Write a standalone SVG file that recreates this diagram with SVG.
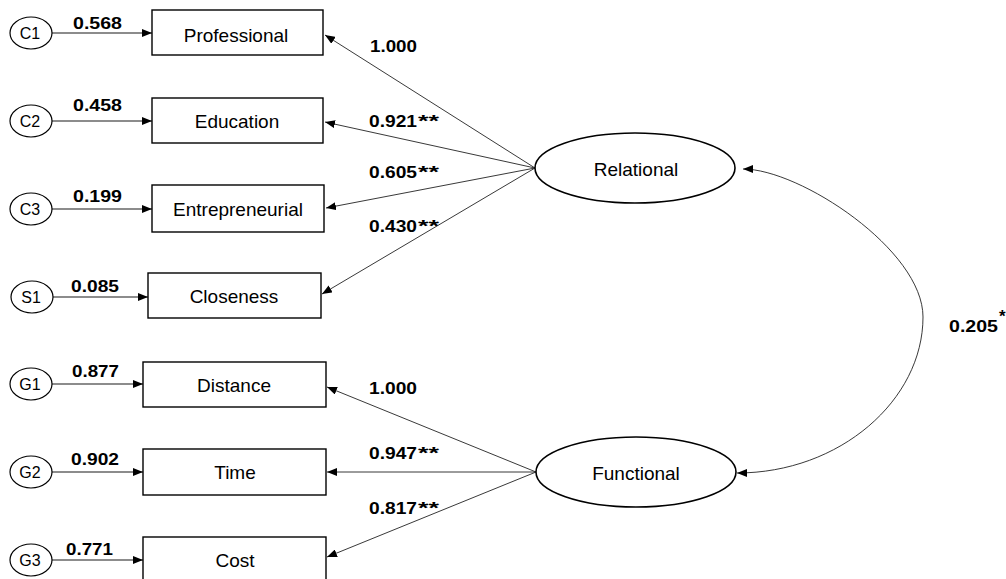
<svg xmlns="http://www.w3.org/2000/svg" width="1006" height="579" viewBox="0 0 1006 579">
  <style>
    .box { fill: #fff; stroke: #000; stroke-width: 1.4; }
    .lat { fill: #fff; stroke: #000; stroke-width: 1.6; }
    .err { fill: #fff; stroke: #000; stroke-width: 1.2; }
    .name { font-family: "Liberation Sans", Arial, sans-serif; font-size: 19px; fill: #000; text-anchor: middle; }
    .ename { font-family: "Liberation Sans", Arial, sans-serif; font-size: 16px; fill: #000; text-anchor: middle; }
    .val { font-family: "Liberation Sans", Arial, sans-serif; font-size: 17px; font-weight: bold; fill: #000; }
    .star { font-family: "Liberation Sans", Arial, sans-serif; font-size: 17px; font-weight: bold; fill: #000; }
    .load { fill: none; stroke: #222; stroke-width: 0.9; marker-end: url(#ah); }
    .res { fill: none; stroke: #666; stroke-width: 1.4; marker-end: url(#ah); }
    .cov { fill: none; stroke: #222; stroke-width: 0.9; }
  </style>
  <defs>
    <marker id="ah" markerWidth="11" markerHeight="8" refX="10" refY="4" orient="auto" markerUnits="userSpaceOnUse">
      <path d="M0,0 L10,4 L0,8 z" fill="#000"/>
    </marker>
    <marker id="ahs" markerWidth="11" markerHeight="8" refX="10" refY="4" orient="auto-start-reverse" markerUnits="userSpaceOnUse">
      <path d="M0,0 L10,4 L0,8 z" fill="#000"/>
    </marker>
  </defs>
  <rect width="1006" height="579" fill="#fff"/>

  <!-- connectors -->
  <g id="connectors">
    <!-- residual paths -->
    <line class="res" x1="52" y1="33" x2="152" y2="33"/>
    <line class="res" x1="52" y1="121" x2="152" y2="121"/>
    <line class="res" x1="52" y1="209" x2="152" y2="209"/>
    <line class="res" x1="53" y1="297" x2="148" y2="297"/>
    <line class="res" x1="52" y1="384" x2="143" y2="384"/>
    <line class="res" x1="52" y1="472" x2="143" y2="472"/>
    <line class="res" x1="52" y1="560" x2="143" y2="560"/>
    <!-- Relational loadings -->
    <line class="load" x1="535" y1="168" x2="325" y2="35"/>
    <line class="load" x1="535" y1="168" x2="325" y2="122"/>
    <line class="load" x1="535" y1="168" x2="326" y2="208"/>
    <line class="load" x1="535" y1="168" x2="322" y2="294"/>
    <!-- Functional loadings -->
    <line class="load" x1="536" y1="472" x2="327" y2="387"/>
    <line class="load" x1="536" y1="472" x2="327" y2="472"/>
    <line class="load" x1="536" y1="472" x2="327" y2="557"/>
    <!-- covariance -->
    <path class="cov" marker-start="url(#ahs)" marker-end="url(#ah)" d="M743,169 C800,169 923,250 923,317 C923,400 840,473 737,473"/>
  </g>

  <!-- labels on connectors -->
  <g id="labels">
    <text class="val" x="73" y="29" textLength="49" lengthAdjust="spacingAndGlyphs">0.568</text>
    <text class="val" x="73" y="111" textLength="49" lengthAdjust="spacingAndGlyphs">0.458</text>
    <text class="val" x="73" y="202" textLength="49" lengthAdjust="spacingAndGlyphs">0.199</text>
    <text class="val" x="71" y="292" textLength="48" lengthAdjust="spacingAndGlyphs">0.085</text>
    <text class="val" x="72" y="377" textLength="47" lengthAdjust="spacingAndGlyphs">0.877</text>
    <text class="val" x="71" y="465" textLength="48" lengthAdjust="spacingAndGlyphs">0.902</text>
    <text class="val" x="66" y="555" textLength="47" lengthAdjust="spacingAndGlyphs">0.771</text>

    <text class="val" x="370" y="52" textLength="47" lengthAdjust="spacingAndGlyphs">1.000</text>
    <text class="val" x="369" y="127" textLength="48" lengthAdjust="spacingAndGlyphs">0.921</text>
    <text class="star" x="418" y="127" textLength="21" lengthAdjust="spacingAndGlyphs">**</text>
    <text class="val" x="369" y="178" textLength="48" lengthAdjust="spacingAndGlyphs">0.605</text>
    <text class="star" x="418" y="178" textLength="21" lengthAdjust="spacingAndGlyphs">**</text>
    <text class="val" x="369" y="232" textLength="48" lengthAdjust="spacingAndGlyphs">0.430</text>
    <text class="star" x="418" y="232" textLength="21" lengthAdjust="spacingAndGlyphs">**</text>

    <text class="val" x="369" y="394" textLength="48" lengthAdjust="spacingAndGlyphs">1.000</text>
    <text class="val" x="369" y="459" textLength="48" lengthAdjust="spacingAndGlyphs">0.947</text>
    <text class="star" x="418" y="459" textLength="21" lengthAdjust="spacingAndGlyphs">**</text>
    <text class="val" x="369" y="514" textLength="48" lengthAdjust="spacingAndGlyphs">0.817</text>
    <text class="star" x="418" y="514" textLength="21" lengthAdjust="spacingAndGlyphs">**</text>

    <text class="val" x="949" y="332" textLength="49" lengthAdjust="spacingAndGlyphs">0.205</text>
    <text class="star" x="999" y="322" font-size="11">*</text>
  </g>

  <!-- error terms -->
  <g id="C1"><ellipse class="err" cx="31" cy="33" rx="21" ry="16"/><text class="ename" x="30" y="39">C1</text></g>
  <g id="C2"><ellipse class="err" cx="31" cy="121" rx="21" ry="16"/><text class="ename" x="30" y="127">C2</text></g>
  <g id="C3"><ellipse class="err" cx="31" cy="209" rx="21" ry="16"/><text class="ename" x="30" y="215">C3</text></g>
  <g id="S1"><ellipse class="err" cx="32" cy="297" rx="21" ry="16"/><text class="ename" x="31" y="303">S1</text></g>
  <g id="G1"><ellipse class="err" cx="31" cy="384" rx="21" ry="16"/><text class="ename" x="30" y="390">G1</text></g>
  <g id="G2"><ellipse class="err" cx="31" cy="472" rx="21" ry="16"/><text class="ename" x="30" y="478">G2</text></g>
  <g id="G3"><ellipse class="err" cx="31" cy="560" rx="21" ry="16"/><text class="ename" x="30" y="566">G3</text></g>

  <!-- observed variables -->
  <g id="Professional"><rect class="box" x="152" y="10" width="171" height="45"/><text class="name" x="236" y="42">Professional</text></g>
  <g id="Education"><rect class="box" x="152" y="98" width="171" height="45"/><text class="name" x="237" y="128">Education</text></g>
  <g id="Entrepreneurial"><rect class="box" x="152" y="185" width="172" height="47"/><text class="name" x="238" y="216">Entrepreneurial</text></g>
  <g id="Closeness"><rect class="box" x="148" y="273" width="173" height="45"/><text class="name" x="234" y="303">Closeness</text></g>
  <g id="Distance"><rect class="box" x="143" y="362" width="183" height="45"/><text class="name" x="234" y="392">Distance</text></g>
  <g id="Time"><rect class="box" x="143" y="449" width="183" height="46"/><text class="name" x="235" y="479">Time</text></g>
  <g id="Cost"><rect class="box" x="143" y="537" width="183" height="46"/><text class="name" x="235" y="567">Cost</text></g>

  <!-- latent factors -->
  <g id="Relational"><ellipse class="lat" cx="635" cy="168" rx="100" ry="35"/><text class="name" x="636" y="176">Relational</text></g>
  <g id="Functional"><ellipse class="lat" cx="636" cy="472" rx="100" ry="35"/><text class="name" x="636" y="480">Functional</text></g>
</svg>
